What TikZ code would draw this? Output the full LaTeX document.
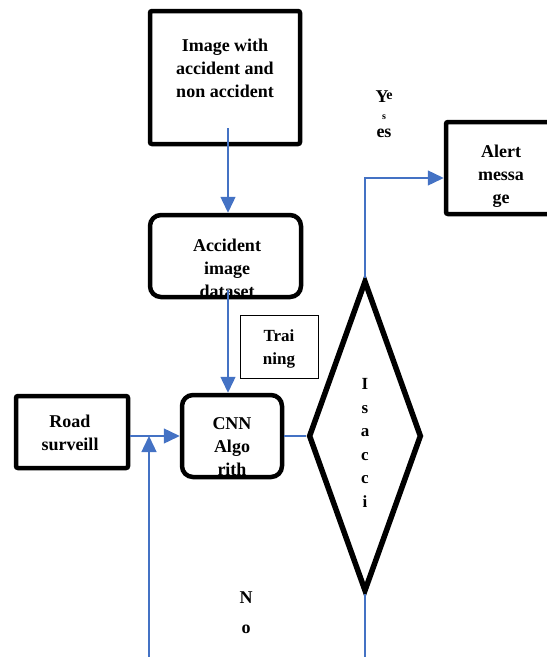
\documentclass[tikz,border=0pt]{standalone}
\usepackage{fontspec}
\setmainfont{Liberation Serif}
\usetikzlibrary{arrows.meta,shapes.geometric}

\tikzset{
  box/.style={draw, line width=4.5pt, rounded corners=2pt, inner sep=0pt},
  roundbox/.style={draw, line width=4.5pt, rounded corners=11pt, inner sep=0pt},
  thinbox/.style={draw, line width=1pt, inner sep=0pt},
  decision/.style={draw, diamond, line width=5.5pt, inner sep=0pt},
  txt/.style={font=\bfseries\fontsize{18}{23}\selectfont, align=center, inner sep=0pt},
  link/.style={draw=linkblue, line width=1.4pt},
  arrow/.style={link, -{Triangle[length=16pt,width=15pt]}},
}
\definecolor{linkblue}{HTML}{4472C4}

\begin{document}
\begin{tikzpicture}[x=1pt,y=-1pt]
    \useasboundingbox (0,0) rectangle (547,657);
    \clip (0,0) rectangle (547,657);
    % boxes
    \node[box, minimum width=150pt, minimum height=133pt] (img) at (225,77.5) {};
    \node[roundbox, minimum width=151pt, minimum height=82pt] (data) at (225.5,256) {};
    \node[thinbox, minimum width=78pt, minimum height=63pt] (train) at (279,346.5) {};
    \node[box, minimum width=112pt, minimum height=72pt] (road) at (72,432) {};
    \node[roundbox, minimum width=100pt, minimum height=82pt] (cnn) at (232,436) {};
    \node[box, minimum width=122pt, minimum height=92pt] (alert) at (507,168) {};
    \node[decision, minimum width=113pt, minimum height=311pt] (check) at (365,436) {};
    % texts
    \node[txt] (img-t) at (225,68) {Image with\\accident and\\non accident};
    \node[txt] (data-t) at (227,268) {Accident\\image\\dataset};
    \node[txt, font=\bfseries\fontsize{17}{23}\selectfont] (train-t) at (279,348.5) {Trai\\ning};
    \node[txt] (road-t) at (70,433) {Road\\surveill};
    \node[txt] (cnn-t) at (232,447) {CNN\\Algo\\rith};
    \node[txt] (alert-t) at (501,176) {Alert\\messa\\ge};
    \node[txt, font=\bfseries\fontsize{17}{23.5}\selectfont] (check-t) at (365,443) {I\\s\\a\\c\\c\\i};
    \node[txt, font=\bfseries\fontsize{18}{30}\selectfont] (no-t) at (246,613) {N\\o};
    % garbled yes label
    \node[txt] (yes-a) at (382,97) {Y};
    \node[txt, font=\bfseries\fontsize{14}{14}\selectfont] (yes-b) at (389.5,96) {e};
    \node[txt, font=\bfseries\fontsize{10}{10}\selectfont] (yes-c) at (384,117) {s};
    \node[txt] (yes-d) at (384,133) {es};
    % connector ends
    \coordinate (img-out) at (228,128);
    \coordinate (data-out) at (228,290);
    \coordinate (feed) at (149,662);
    \coordinate (bend) at (365,178);
    \coordinate (exit) at (365,662);
    % connectors
    \draw[arrow] (img-out) -- (img-out |- data.north);
    \draw[arrow] (data-out) -- (data-out |- cnn.north);
    \draw[arrow] (road.east |- cnn.west) -- (cnn.west);
    \draw[arrow] (feed) -- (feed |- cnn.west);
    \draw[link] (cnn.east) -- (check.west);
    \draw[arrow] (check.north) -- (bend) -- (bend -| alert.west);
    \draw[link] (check.south) -- (exit);
  \end{tikzpicture}
\end{document}
